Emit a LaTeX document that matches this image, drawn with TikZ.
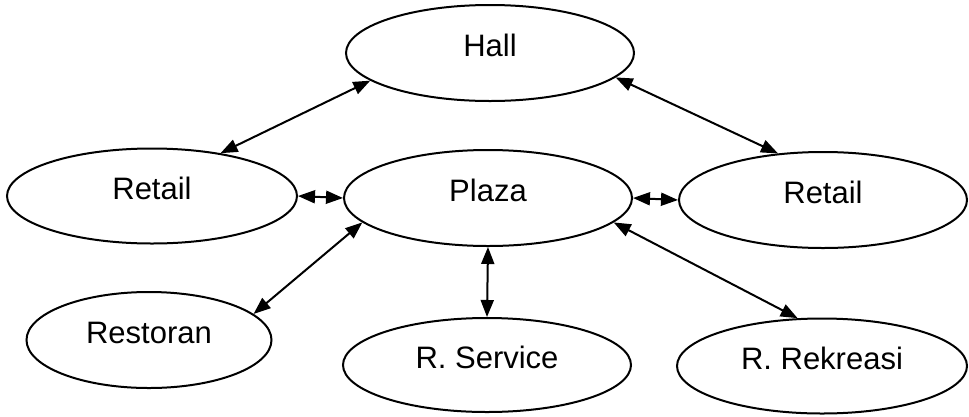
\documentclass[tikz,border=0pt]{standalone}
\usepackage{fontspec}
\setmainfont{Liberation Sans}
\usetikzlibrary{shapes.geometric,arrows.meta}
\begin{document}
\begin{tikzpicture}[x=1pt,y=-1pt,
  room/.style={ellipse,draw,line width=2pt,minimum width=288pt,minimum height=96pt,inner sep=0pt,
    font=\fontsize{31}{34}\selectfont,text height=22pt,text depth=15.5pt},
  link/.style={line width=2pt,{Triangle[length=17pt,width=13pt]}-{Triangle[length=17pt,width=13pt]}}]
\useasboundingbox (0,0) rectangle (969,416);
\node[room] (hall) at (490,53) {Hall};
\node[room,minimum width=290pt,minimum height=95pt] (retL) at (152,196) {Retail};
\node[room] (plaza) at (488,198) {Plaza};
\node[room] (retR) at (823,200) {Retail};
\node[room,minimum width=245pt] (rest) at (149,340) {Restoran};
\node[room,minimum height=94pt] (serv) at (487,365) {R. Service};
\node[room,minimum width=290pt,minimum height=95pt] (rekr) at (822,366) {R. Rekreasi};
\draw[link] (hall.193.3) -- (retL.32.6);
\draw[link] (hall.-11.6) -- (retR.134.4);
\draw[link] (retL.east) -- (plaza.west);
\draw[link] (plaza.east) -- (retR.west);
\draw[link] (plaza.191.8) -- (rest.14.7);
\draw[link] (plaza.south) -- (serv.north);
\draw[link] (plaza.-11.9) -- (rekr.117);
\end{tikzpicture}
\end{document}
